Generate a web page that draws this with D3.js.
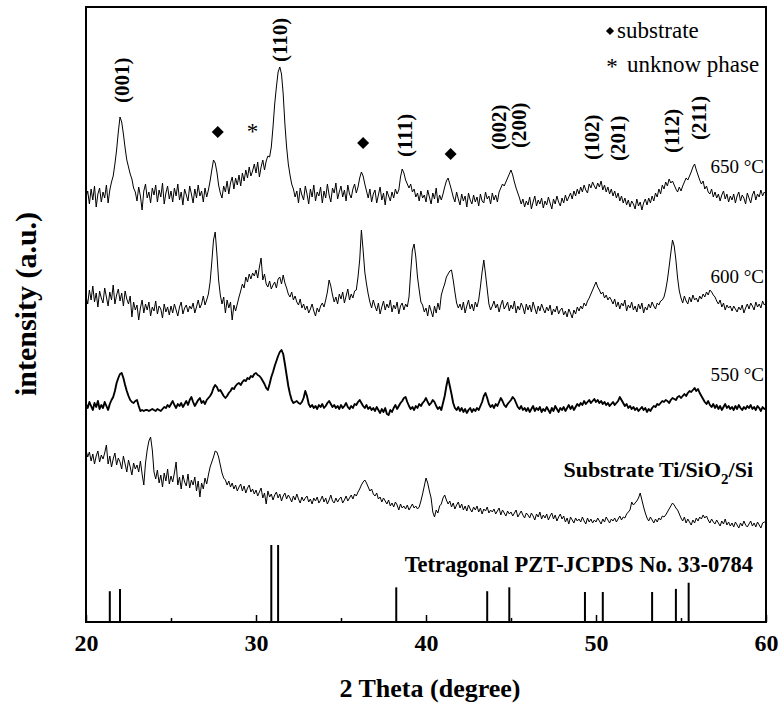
<!DOCTYPE html>
<html>
<head>
<meta charset="utf-8">
<script src="https://cdn.jsdelivr.net/npm/d3@7"></script>
<style>
  body { margin: 0; background: #fff; }
  text { font-family: "Liberation Serif", "Times New Roman", serif; fill: #000; }
</style>
</head>
<body>
<svg width="781" height="704"></svg>
<script>
// 2 theta grid of the scans, 20 to 60 deg, 0.1 deg steps
const twoTheta = d3.range(200, 601).map(i => i / 10);

// intensity (a.u.), curves already stacked
const s650 = [
  425, 431, 418, 433, 422, 436, 415, 428, 434, 420,
  430, 424, 437, 419, 432, 440, 446, 458, 472, 490,
  505, 500, 488, 474, 462, 455, 448, 443, 434, 430,
  421, 435, 426, 412, 431, 438, 424, 430, 419, 434,
  427, 437, 420, 432, 425, 439, 418, 429, 436, 423,
  431, 420, 434, 426, 438, 422, 430, 417, 433, 427,
  421, 436, 428, 419, 433, 424, 437, 426, 431, 420,
  434, 425, 432, 441, 452, 462, 459, 450, 437, 429,
  424, 436, 430, 441, 428, 439, 445, 433, 444, 437,
  447, 436, 449, 441, 452, 444, 455, 446, 451, 458,
  449, 460, 445, 455, 462, 452, 461, 466, 465, 475,
  495, 518, 535, 550, 555, 548, 528, 498, 475, 458,
  447, 438, 433, 425, 431, 419, 434, 427, 422, 436,
  428, 418, 433, 425, 437, 421, 430, 426, 435, 419,
  431, 424, 438, 427, 420, 434, 429, 439, 423, 430,
  436, 425, 432, 421, 437, 428, 424, 433, 438, 429,
  435, 444, 450, 446, 438, 431, 424, 433, 420, 428,
  432, 419, 427, 435, 422, 429, 417, 431, 426, 421,
  430, 424, 433, 428, 432, 445, 453, 449, 442, 438,
  434, 438, 430, 433, 425, 429, 421, 431, 424, 427,
  420, 432, 425, 418, 429, 423, 434, 419, 427, 422,
  428, 435, 441, 444, 438, 432, 425, 420, 430, 423,
  417, 428, 421, 426, 415, 429, 422, 418, 427, 420,
  425, 416, 428, 421, 419, 430, 423, 426, 418, 429,
  422, 427, 420, 430, 434, 438, 436, 440, 444, 448,
  452, 447, 440, 434, 429, 424, 418, 423, 415, 421,
  417, 425, 413, 420, 426, 416, 422, 418, 424, 414,
  421, 417, 425, 419, 413, 423, 418, 426, 420, 416,
  424, 419, 427, 421, 425, 429, 423, 431, 426, 433,
  428, 435, 430, 437, 432, 429, 438, 434, 440, 436,
  433, 439, 435, 441, 432, 437, 430, 435, 428, 433,
  426, 431, 424, 429, 421, 426, 419, 424, 417, 422,
  415, 421, 418, 413, 423, 416, 420, 412, 419, 423,
  417, 424, 419, 426, 421, 429, 425, 433, 428, 437,
  433, 440, 436, 443, 439, 441, 437, 433, 430, 435,
  431, 436, 440, 444, 442, 446, 450, 455, 458, 452,
  447, 442, 438, 441, 433, 436, 430, 428, 433, 425,
  430, 424, 428, 421, 427, 431, 423, 428, 420, 426,
  422, 428, 419, 426, 430, 421, 427, 424, 418, 429,
  424, 419, 427, 431, 422, 428, 425, 432, 426, 430,
  428
];

const s600 = [
  326, 318, 332, 322, 336, 320, 329, 315, 331, 324,
  319, 334, 325, 316, 330, 322, 337, 318, 327, 333,
  321, 329, 316, 331, 323, 318, 326, 305, 320, 312,
  317, 302, 314, 322, 309, 318, 312, 320, 306, 315,
  311, 321, 308, 316, 313, 304, 318, 310, 315, 307,
  316, 309, 318, 312, 306, 315, 320, 308, 314, 317,
  310, 316, 313, 319, 309, 315, 322, 314, 318, 326,
  317, 322, 328, 340, 360, 382, 390, 368, 342, 327,
  318, 325, 309, 322, 314, 320, 302, 317, 311, 318,
  325, 331, 338, 334, 345, 340, 348, 343, 349, 346,
  352, 344, 355, 364, 342, 348, 338, 335, 341, 333,
  337, 340, 334, 343, 345, 338, 347, 339, 334, 328,
  325, 330, 322, 326, 320, 317, 323, 314, 318, 312,
  316, 309, 313, 318, 311, 306, 314, 310, 316, 319,
  315, 322, 330, 342, 336, 327, 320, 325, 318, 328,
  323, 330, 319, 326, 333, 322, 328, 324, 331, 332,
  345, 362, 392, 372, 350, 338, 328, 320, 314, 322,
  316, 311, 319, 308, 315, 321, 312, 318, 314, 322,
  310, 317, 313, 320, 308, 316, 319, 312, 318, 315,
  325, 350, 372, 378, 365, 345, 332, 320, 317, 310,
  314, 306, 317, 311, 305, 316, 309, 319, 312, 327,
  333, 338, 345, 348, 351, 352, 342, 330, 319, 314,
  318, 312, 320, 309, 316, 322, 313, 318, 311, 320,
  315, 322, 335, 350, 362, 348, 333, 318, 312, 316,
  321, 314, 318, 310, 317, 322, 313, 316, 320, 311,
  317, 313, 321, 309, 316, 312, 319, 315, 308, 318,
  312, 317, 310, 320, 314, 308, 316, 311, 318, 313,
  309, 315, 311, 317, 307, 313, 310, 316, 308, 312,
  314, 307, 311, 305, 313, 309, 304, 312, 308, 315,
  311, 316, 313, 319, 316, 321, 324, 328, 332, 336,
  340, 335, 332, 328, 330, 324, 327, 322, 325, 322,
  318, 323, 315, 320, 313, 319, 316, 322, 311, 317,
  314, 320, 312, 316, 310, 318, 313, 319, 309, 315,
  312, 318, 314, 320, 316, 313, 319, 317, 321, 322,
  325, 332, 342, 355, 369, 382, 376, 362, 344, 331,
  324, 319, 326, 321, 318, 325, 320, 327, 322, 324,
  320, 326, 323, 328, 325, 330, 327, 332, 330, 327,
  325, 321, 318, 322, 315, 319, 312, 317, 314, 316,
  311, 316, 313, 310, 315, 312, 317, 309, 314, 318,
  313, 319, 316, 312, 320, 315, 318, 314, 321, 317,
  319
];

const s550 = [
  218, 214, 220, 216, 212, 219, 215, 221, 213, 217,
  214, 220, 216, 212, 218, 222, 225, 231, 239, 244,
  248, 249, 244, 237, 231, 226, 222, 220, 219, 221,
  222, 216, 211, 212, 211, 212, 212, 211, 212, 213,
  212, 211, 213, 212, 211, 213, 215, 214, 217, 215,
  218, 221, 217, 214, 218, 216, 219, 215, 218, 221,
  217, 222, 225, 220, 216, 219, 222, 224, 219, 221,
  218, 222, 224, 226, 229, 234, 237, 235, 231, 232,
  229, 226, 224, 226, 229, 231, 234, 233, 236, 238,
  239, 237, 240, 242, 241, 244, 243, 246, 245, 248,
  249, 247, 246, 244, 241, 238, 234, 232, 238, 245,
  250, 256, 261, 266, 270, 272, 268, 258, 247, 236,
  228, 222, 219, 220, 221, 219, 218, 220, 224, 231,
  226, 218, 215, 217, 214, 216, 213, 217, 215, 218,
  214, 216, 219, 221, 218, 215, 217, 214, 216, 213,
  217, 214, 216, 219, 215, 213, 216, 214, 218, 217,
  220, 222, 219, 216, 214, 217, 213, 215, 212, 214,
  211, 215, 212, 209, 213, 210, 214, 208, 207, 212,
  210, 214, 217, 213, 216, 219, 221, 224, 225, 220,
  216, 213, 215, 212, 216, 214, 218, 216, 219, 221,
  224, 220, 217, 219, 222, 220, 216, 213, 215, 212,
  219, 226, 236, 244, 236, 228, 219, 214, 212, 215,
  211, 214, 210, 213, 209, 212, 214, 210, 213, 211,
  214, 212, 216, 220, 226, 229, 224, 218, 215, 217,
  214, 218, 216, 220, 224, 221, 217, 215, 218, 220,
  222, 225, 223, 219, 215, 213, 216, 212, 214, 211,
  214, 210, 213, 216, 211, 214, 212, 215, 210, 213,
  211, 215, 212, 209, 214, 211, 216, 213, 210, 214,
  212, 215, 211, 214, 217, 213, 216, 212, 215, 218,
  216, 219, 217, 221, 218, 220, 222, 219, 221, 223,
  220, 222, 219, 221, 218, 220, 217, 219, 216, 218,
  220, 217, 219, 221, 225, 222, 219, 216, 218, 214,
  216, 213, 215, 212, 214, 211, 213, 215, 212, 214,
  210, 213, 211, 214, 216, 215, 218, 217, 219, 221,
  220, 222, 221, 219, 222, 224, 223, 222, 225, 226,
  224, 226, 228, 226, 229, 231, 230, 232, 234, 231,
  233, 229, 226, 223, 220, 218, 221, 217, 215, 218,
  214, 217, 213, 216, 212, 215, 218, 214, 216, 213,
  215, 212, 216, 213, 217, 214, 212, 215, 213, 216,
  214, 217, 213, 215, 212, 216, 214, 211, 215, 213,
  214
];

const sSubstrate = [
  172, 165, 170, 161, 168, 158, 166, 171, 160, 167,
  163, 169, 177, 158, 166, 155, 163, 169, 157, 164,
  160, 153, 166, 158, 150, 162, 155, 147, 159, 153,
  157, 150, 161, 148, 137, 159, 172, 181, 185, 172,
  150, 143, 152, 139, 147, 135, 149, 141, 153, 138,
  146, 140, 149, 160, 137, 145, 133, 147, 140, 136,
  148, 134, 142, 137, 145, 131, 141, 125, 139, 133,
  144, 138, 147, 155, 160, 165, 171, 170, 165, 157,
  149, 144, 142, 137, 141, 135, 139, 133, 137, 131,
  135, 138, 131, 136, 129, 134, 137, 130, 133, 128,
  132, 126, 130, 134, 124, 129, 118, 131, 125, 128,
  122, 127, 130, 124, 128, 121, 126, 129, 123, 127,
  124, 120, 126, 122, 128, 123, 119, 125, 121, 124,
  126, 120, 123, 118, 124, 121, 125, 119, 122, 126,
  120, 124, 118, 122, 127, 121, 119, 124, 120, 123,
  125, 119, 122, 126, 121, 124, 127, 123, 128, 126,
  130, 133, 137, 140, 142, 139, 135, 131, 133, 128,
  126, 129, 123, 125, 120, 124, 121, 118, 122, 116,
  119, 115, 120, 117, 112, 118, 114, 116, 113, 117,
  112, 115, 118, 114, 116, 113, 115, 121, 128, 136,
  144, 139, 131, 124, 110, 105, 112, 109, 116, 118,
  124, 127, 122, 118, 121, 115, 119, 113, 117, 120,
  114, 118, 112, 116, 111, 117, 113, 110, 115, 112,
  116, 110, 114, 108, 113, 111, 115, 109, 112, 110,
  113, 108, 111, 114, 107, 112, 109, 106, 111, 108,
  110, 106, 109, 112, 105, 108, 111, 107, 104, 109,
  107, 104, 109, 106, 102, 108, 105, 110, 103, 107,
  104, 108, 102, 106, 109, 103, 107, 101, 105, 108,
  103, 106, 100, 104, 98, 105, 102, 99, 104, 101,
  103, 100, 105, 101, 98, 104, 100, 103, 99, 102,
  100, 104, 101, 98, 103, 100, 105, 102, 99, 103,
  101, 104, 100, 103, 106, 102, 105, 104, 108, 110,
  112, 120, 117, 119, 121, 124, 129, 122, 115, 109,
  104, 101, 105, 102, 99, 103, 100, 104, 102, 106,
  105, 107, 110, 113, 116, 119, 117, 114, 112, 108,
  104, 101, 105, 99, 103, 100, 97, 102, 99, 104,
  101, 105, 103, 107, 104, 106, 102, 99, 103, 100,
  98, 102, 99, 96, 101, 98, 103, 97, 100, 96,
  99, 95, 100, 97, 94, 99, 96, 101, 97, 95,
  98, 101, 96, 99, 95, 100, 97, 94, 99, 100,
  99
];

// JCPDS 33-0784 reference lines: position and relative intensity
const jcpdsPos = [21.4, 22.0, 30.9, 31.3, 38.25, 43.6, 44.9, 49.35, 50.4, 53.3, 54.7, 55.45];
const jcpdsInt = [40, 43, 100, 100, 45, 40, 45, 39, 39, 39, 43, 51];

// peak labels
const hklText = ["(001)", "(110)", "(111)", "(002)", "(200)", "(102)", "(201)", "(112)", "(211)"];
const hklPos = [22.1, 31.4, 38.75, 44.3, 45.45, 49.75, 51.25, 54.45, 56.05];
const substratePeaks = [27.75, 36.3, 41.45];
const unknownPeaks = [29.8];

const curveNames = ["650 °C", "600 °C", "550 °C", "Substrate"];
const xTicks = [20, 30, 40, 50, 60];
const xMinor = [25, 35, 45, 55];

const svg = d3.select('svg');

const x = d3.scaleLinear().domain([20, 60]).range([86, 766]);
const y = d3.scaleLinear().domain([0, 615]).range([622, 7]);
const yStick = d3.scaleLinear().domain([0, 100]).range([622, 545]);

// traces
const line = d3.line()
    .x((d, i) => x(twoTheta[i]))
    .y(d => y(d));

const curves = [s650, s600, s550, sSubstrate];
const widths = [1, 1, 1.9, 1];

svg.selectAll('path.scan')
    .data(curves)
    .enter()
    .append('path')
    .attr('class', 'scan')
    .attr('d', d => line(d))
    .style('fill', 'none')
    .style('stroke', 'black')
    .style('stroke-width', (d, i) => widths[i])
    .style('stroke-linejoin', 'round');

// reference sticks
svg.selectAll('line.stick')
    .data(jcpdsPos)
    .enter()
    .append('line')
    .attr('class', 'stick')
    .attr('x1', d => x(d))
    .attr('x2', d => x(d))
    .attr('y1', yStick(0))
    .attr('y2', (d, i) => yStick(jcpdsInt[i]))
    .style('stroke', 'black')
    .style('stroke-width', 2);

// axes
const xAxis = svg.append('g')
    .attr('transform', 'translate(0,622)')
    .call(d3.axisBottom(x).tickValues(xTicks).tickSize(-7).tickPadding(12).tickFormat(d3.format('d')));
xAxis.select('.domain').remove();
xAxis.selectAll('line').style('stroke-width', 1.5);
xAxis.selectAll('text')
    .style('font-family', '"Liberation Serif", serif')
    .style('font-weight', 'bold')
    .style('font-size', '24px');

const xAxisMinor = svg.append('g')
    .attr('transform', 'translate(0,622)')
    .call(d3.axisBottom(x).tickValues(xMinor).tickSize(-4).tickFormat(''));
xAxisMinor.select('.domain').remove();
xAxisMinor.selectAll('line').style('stroke-width', 1.5);

svg.append('rect')
    .attr('x', x(20))
    .attr('y', y(615))
    .attr('width', x(60) - x(20))
    .attr('height', y(0) - y(615))
    .style('fill', 'none')
    .style('stroke', 'black')
    .style('stroke-width', 2);

// axis titles
svg.append('text')
    .attr('x', 430)
    .attr('y', 697)
    .attr('text-anchor', 'middle')
    .style('font-weight', 'bold')
    .style('font-size', '26px')
    .text('2 Theta (degree)');

svg.append('text')
    .attr('transform', 'translate(25,304) rotate(-90)')
    .attr('text-anchor', 'middle')
    .attr('dy', '0.35em')
    .style('font-weight', 'bold')
    .style('font-size', '30px')
    .text('intensity (a.u.)');

// hkl labels, vertical
const hklBottom = [103, 62, 157, 150, 148, 160, 161, 153, 140];
svg.selectAll('text.hkl')
    .data(hklText)
    .enter()
    .append('text')
    .attr('class', 'hkl')
    .attr('transform', (d, i) => `translate(${x(hklPos[i])},${hklBottom[i]}) rotate(-90)`)
    .attr('dy', '0.35em')
    .style('font-weight', 'bold')
    .style('font-size', '21px')
    .text(d => d);

// substrate and unknown phase markers
const diamond = d3.symbol().type(d3.symbolSquare);
const diamondY = [132, 143, 154];
svg.selectAll('path.sub')
    .data(substratePeaks)
    .enter()
    .append('path')
    .attr('class', 'sub')
    .attr('d', diamond.size(72)())
    .attr('transform', (d, i) => `translate(${x(d)},${diamondY[i]}) rotate(45)`);

svg.selectAll('text.unk')
    .data(unknownPeaks)
    .enter()
    .append('text')
    .attr('class', 'unk')
    .attr('x', d => x(d))
    .attr('y', 139)
    .attr('text-anchor', 'middle')
    .style('font-size', '23px')
    .text('*');

// legend
svg.append('path')
    .attr('d', d3.symbol().type(d3.symbolSquare).size(34)())
    .attr('transform', 'translate(610,31) rotate(45)');
svg.append('text')
    .attr('x', 617).attr('y', 38)
    .style('font-size', '23px')
    .text('substrate');
svg.append('text')
    .attr('x', 612).attr('y', 74)
    .attr('text-anchor', 'middle')
    .style('font-size', '23px')
    .text('*');
svg.append('text')
    .attr('x', 627).attr('y', 72)
    .style('font-size', '23px')
    .text('unknow phase');

// curve labels
const tempY = [173, 283, 381];
svg.selectAll('text.temp')
    .data(curveNames.slice(0, 3))
    .enter()
    .append('text')
    .attr('class', 'temp')
    .attr('x', 764)
    .attr('y', (d, i) => tempY[i])
    .attr('text-anchor', 'end')
    .style('font-size', '19px')
    .text(d => d);

const subLabel = svg.append('text')
    .attr('x', 753).attr('y', 477)
    .attr('text-anchor', 'end')
    .style('font-weight', 'bold')
    .style('font-size', '22px');
subLabel.append('tspan').text('Substrate Ti/SiO');
subLabel.append('tspan').attr('dy', 7).style('font-size', '15px').text('2');
subLabel.append('tspan').attr('dy', -7).text('/Si');

svg.append('text')
    .attr('x', 753).attr('y', 572)
    .attr('text-anchor', 'end')
    .style('font-weight', 'bold')
    .style('font-size', '22.5px')
    .text('Tetragonal PZT-JCPDS No. 33-0784');
</script>
</body>
</html>
